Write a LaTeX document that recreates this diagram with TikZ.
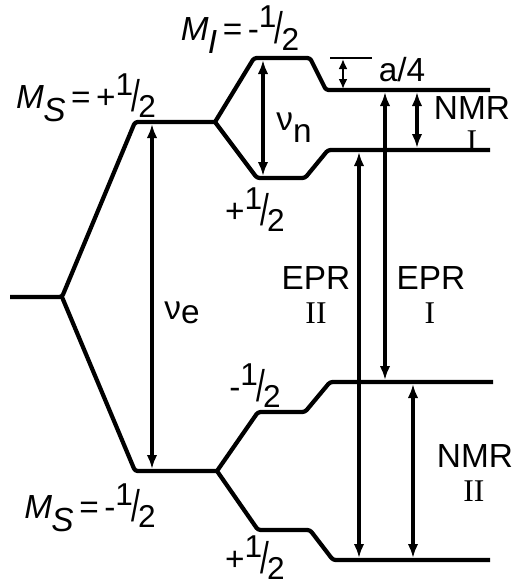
\documentclass[tikz,border=0pt]{standalone}
\usepackage{fontspec}
\setmainfont{Liberation Sans}
\newfontfamily\rmn{Liberation Serif}
\usetikzlibrary{arrows.meta}
\newcommand\hf{{\fontsize{18}{18}\selectfont\raisebox{.4em}{1}\kern-.06em\raisebox{-.1em}{\scalebox{1}[1.4]{/}}\kern-.06em\raisebox{-.3em}{2}}}
\newcommand\msub[2]{{\itshape #1\kern-.02em\raisebox{-.4em}{#2}}}
\begin{document}
\begin{tikzpicture}[x=0.02cm,y=-0.02cm,
  lvl/.style={line width=2.4pt, line join=round, rounded corners=1.5pt},
  arr/.style={line width=1.8pt, {Latex[length=2.8mm,width=2.1mm]}-{Latex[length=2.8mm,width=2.1mm]}},
  sarr/.style={line width=1.6pt, {Latex[length=2mm,width=1.8mm]}-{Latex[length=2mm,width=1.8mm]}},
  bar/.style={line width=1.6pt},
  lab/.style={inner sep=0pt, font=\fontsize{19}{22}\selectfont},
  qn/.style={inner sep=0pt, font=\fontsize{19}{22}\selectfont},
  rn/.style={inner sep=0pt, font=\fontsize{18}{20}\selectfont\rmn}]
\useasboundingbox (0,0) rectangle (513,586);
% level corners
\coordinate (L0) at (10,297);
\coordinate (B0) at (62,297);
\coordinate (U1) at (135,122);
\coordinate (U2) at (215,122);
\coordinate (D1) at (135,471);
\coordinate (D2) at (217,471);
\coordinate (UT1) at (254,58);
\coordinate (UT2) at (310,58);
\coordinate (UT3) at (326,90);
\coordinate (UT4) at (490,90);
\coordinate (UB1) at (257,178);
\coordinate (UB2) at (305,178);
\coordinate (UB3) at (328,150);
\coordinate (UB4) at (490,150);
\coordinate (DT1) at (258,412);
\coordinate (DT2) at (305,412);
\coordinate (DT3) at (330,382);
\coordinate (DT4) at (493,382);
\coordinate (DB1) at (258,530);
\coordinate (DB2) at (310,530);
\coordinate (DB3) at (333,560);
\coordinate (DB4) at (490,560);
% levels
\draw[lvl] (L0) -- (B0) -- (U1) -- (U2);
\draw[lvl] (B0) -- (D1) -- (D2);
\draw[lvl] (U2) -- (UT1) -- (UT2) -- (UT3) -- (UT4);
\draw[lvl] (U2) -- (UB1) -- (UB2) -- (UB3) -- (UB4);
\draw[lvl] (D2) -- (DT1) -- (DT2) -- (DT3) -- (DT4);
\draw[lvl] (D2) -- (DB1) -- (DB2) -- (DB3) -- (DB4);
% arrow end points
\coordinate (ve1) at (152,124);
\coordinate (ve2) at (152,469);
\coordinate (vn1) at (263,60);
\coordinate (vn2) at (263,176);
\coordinate (a1) at (343,59);
\coordinate (a2) at (343,89);
\coordinate (ab1) at (330,58);
\coordinate (ab2) at (372,58);
\coordinate (n11) at (417,92);
\coordinate (n12) at (417,148);
\coordinate (e11) at (385,92);
\coordinate (e12) at (385,380);
\coordinate (e21) at (359,152);
\coordinate (e22) at (359,558);
\coordinate (n21) at (413,384);
\coordinate (n22) at (413,558);
% arrows
\draw[arr] (ve1) -- (ve2);
\draw[arr] (vn1) -- (vn2);
\draw[bar] (ab1) -- (ab2);
\draw[sarr] (a1) -- (a2);
\draw[arr] (n11) -- (n12);
\draw[arr] (e11) -- (e12);
\draw[arr] (e21) -- (e22);
\draw[arr] (n21) -- (n22);
% labels
\node[qn] (msp) at (86,98) {\msub{M}{S}\,=\,+\hf};
\node[qn] (mi) at (240,30) {\msub{M}{I}\,=\,-\hf};
\node[qn] (msm) at (90,508) {\msub{M}{S}\,=\,-\hf};
\node[qn] (p1) at (255,210) {+\hf};
\node[qn] (m1) at (255,386) {-\hf};
\node[qn] (p2) at (255,558) {+\hf};
\node[lab] (ve) at (182,313) {ν\raisebox{-.1em}{e}};
\node[lab] (vn) at (294,128) {ν\raisebox{-.35em}{n}};
\node[lab] (a4) at (402,70) {a/4};
\node[lab] (nmr1) at (472,108) {NMR};
\node[rn] (nmr1i) at (472,141) {I};
\node[lab] (epr2) at (316,278) {EPR};
\node[rn] (epr2i) at (316,313) {II};
\node[lab] (epr1) at (431,278) {EPR};
\node[rn] (epr1i) at (430,313) {I};
\node[lab] (nmr2) at (475,456) {NMR};
\node[rn] (nmr2i) at (474,491) {II};
\end{tikzpicture}
\end{document}
